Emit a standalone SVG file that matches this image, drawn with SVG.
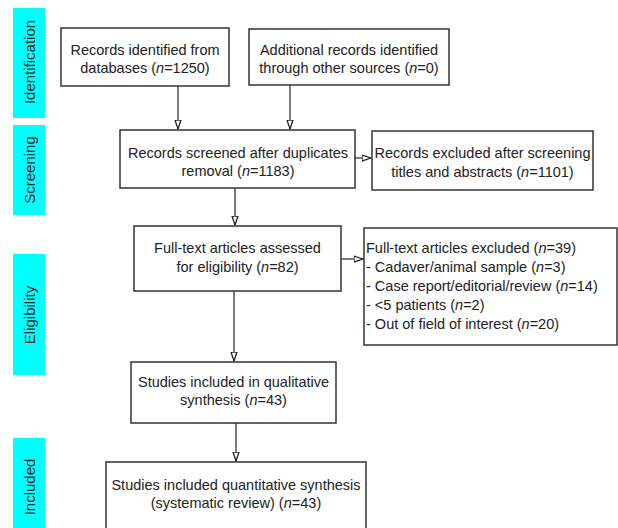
<svg xmlns="http://www.w3.org/2000/svg" width="618" height="528" viewBox="0 0 618 528">
<style>
.bar{fill:#00ffff}
.box{fill:#fff;stroke:#333;stroke-width:1.5}
text{font-family:"Liberation Sans",Arial,sans-serif;font-size:14.5px;fill:#222}
.c{text-anchor:middle}
.side{text-anchor:middle;font-size:15px}
.conn{stroke:#333;stroke-width:1.3;fill:none;marker-end:url(#ah)}
</style>
<defs>
<marker id="ah" markerWidth="10" markerHeight="8" refX="9" refY="4" orient="auto" markerUnits="userSpaceOnUse">
<path d="M0,1 L9,4 L0,7 Z" fill="#fff" stroke="#222" stroke-width="1.3"/>
</marker>
</defs>
<g id="stages">
<rect class="bar" x="13" y="8" width="32" height="110"/>
<rect class="bar" x="13" y="125" width="32" height="90"/>
<rect class="bar" x="13" y="254" width="32" height="121"/>
<rect class="bar" x="13" y="438" width="32" height="90"/>
<text class="side" transform="translate(35,62) rotate(-90)">Identification</text>
<text class="side" transform="translate(35,170) rotate(-90)">Screening</text>
<text class="side" transform="translate(35,315) rotate(-90)">Eligibility</text>
<text class="side" transform="translate(35,487) rotate(-90)">Included</text>
</g>
<g id="connectors">
<line class="conn" x1="178" y1="86" x2="178" y2="129"/>
<line class="conn" x1="290" y1="85" x2="290" y2="129"/>
<line class="conn" x1="355" y1="158" x2="371" y2="158"/>
<line class="conn" x1="235" y1="188" x2="235" y2="225"/>
<line class="conn" x1="341" y1="259" x2="363" y2="259"/>
<line class="conn" x1="234" y1="291" x2="234" y2="361"/>
<line class="conn" x1="236" y1="423" x2="236" y2="461"/>
</g>
<g id="n1">
<rect class="box" x="61" y="28" width="168" height="58"/>
<text class="c" x="145" y="55">Records identified from</text>
<text class="c" x="145" y="73">databases (<tspan font-style="italic">n</tspan>=1250)</text>
</g>
<g id="n2">
<rect class="box" x="249" y="29" width="200" height="56"/>
<text class="c" x="349" y="55">Additional records identified</text>
<text class="c" x="349" y="73">through other sources (<tspan font-style="italic">n</tspan>=0)</text>
</g>
<g id="n3">
<rect class="box" x="120" y="130" width="235" height="58"/>
<text class="c" x="238" y="158">Records screened after duplicates</text>
<text class="c" x="238" y="176">removal (<tspan font-style="italic">n</tspan>=1183)</text>
</g>
<g id="n4">
<rect class="box" x="372" y="131" width="221" height="59"/>
<text class="c" x="482.5" y="158">Records excluded after screening</text>
<text class="c" x="482.5" y="177">titles and abstracts (<tspan font-style="italic">n</tspan>=1101)</text>
</g>
<g id="n5">
<rect class="box" x="134" y="226" width="207" height="65"/>
<text class="c" x="237.5" y="253">Full-text articles assessed</text>
<text class="c" x="237.5" y="272">for eligibility (<tspan font-style="italic">n</tspan>=82)</text>
</g>
<g id="n6">
<rect class="box" x="364" y="228" width="253" height="117"/>
<text x="366" y="253">Full-text articles excluded (<tspan font-style="italic">n</tspan>=39)</text>
<text x="366" y="272">- Cadaver/animal sample (<tspan font-style="italic">n</tspan>=3)</text>
<text x="366" y="291">- Case report/editorial/review (<tspan font-style="italic">n</tspan>=14)</text>
<text x="366" y="310">- &lt;5 patients (<tspan font-style="italic">n</tspan>=2)</text>
<text x="366" y="329">- Out of field of interest (<tspan font-style="italic">n</tspan>=20)</text>
</g>
<g id="n7">
<rect class="box" x="131" y="362" width="205" height="61"/>
<text class="c" x="233.5" y="387">Studies included in qualitative</text>
<text class="c" x="233.5" y="405">synthesis (<tspan font-style="italic">n</tspan>=43)</text>
</g>
<g id="n8">
<rect class="box" x="106" y="462" width="260" height="80"/>
<text class="c" x="236" y="490">Studies included quantitative synthesis</text>
<text class="c" x="236" y="508">(systematic review) (<tspan font-style="italic">n</tspan>=43)</text>
</g>
</svg>
